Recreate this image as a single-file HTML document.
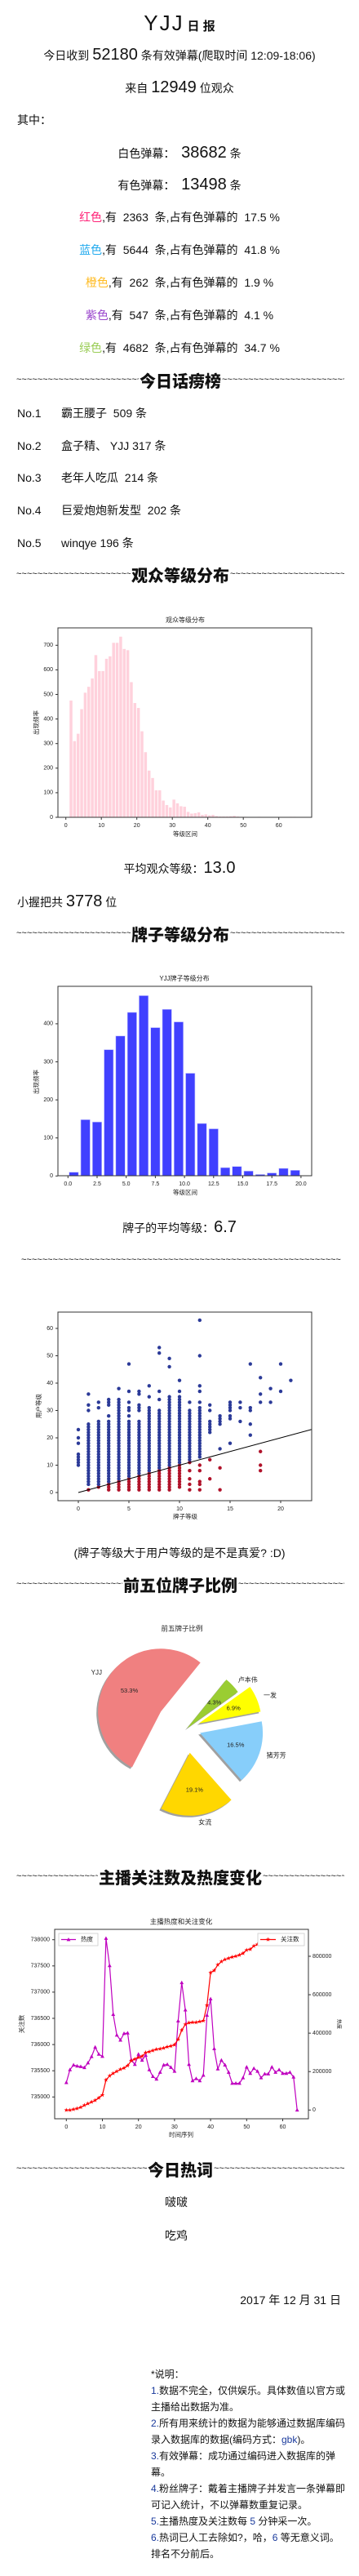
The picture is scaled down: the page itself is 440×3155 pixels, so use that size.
<!DOCTYPE html>
<html><head><meta charset="utf-8">
<style>
html,body{margin:0;padding:0;background:#fff;}
body{width:440px;height:3155px;position:relative;overflow:hidden;font-family:"Liberation Sans","Noto Sans CJK SC",sans-serif;color:#111;}
.c{position:absolute;left:0;width:440px;text-align:center;white-space:nowrap;font-size:14px;line-height:24px;}
.l{position:absolute;white-space:nowrap;font-size:14px;line-height:24px;}
.n{font-size:20px;font-family:"Liberation Sans",sans-serif;}
.hdr{position:absolute;left:20px;width:402px;height:26px;display:flex;align-items:center;white-space:nowrap;}
.hdr .t{flex:1;overflow:hidden;font-size:11px;letter-spacing:0;color:#111;line-height:26px;}
.hdr .m{font-size:20px;font-weight:900;font-family:"Noto Sans CJK SC",sans-serif;padding:0 1px;}
.note{position:absolute;left:185px;width:240px;font-size:12px;line-height:20px;}
.note b{font-weight:normal;color:#1a3a9c;}
svg text{font-family:"Liberation Sans","Noto Sans CJK SC",sans-serif;}
</style></head>
<body>
<div class="c" style="top:14px;line-height:28px"><span style="font-size:26px;letter-spacing:2px">YJJ</span> <span style="font-size:15px;font-weight:bold">日 报</span></div>
<div class="c" style="top:55px">今日收到 <span class="n">52180</span> 条有效弹幕(爬取时间 12:09-18:06)</div>
<div class="c" style="top:95px">来自 <span class="n">12949</span> 位观众</div>
<div class="l" style="left:21px;top:135px">其中：</div>
<div class="c" style="top:175px">白色弹幕：&nbsp; <span class="n">38682</span> 条</div>
<div class="c" style="top:214px">有色弹幕：&nbsp; <span class="n">13498</span> 条</div>
<div class="c" style="top:254px"><span style="color:#ff2277">红色</span>,有 &nbsp;2363 &nbsp;条,占有色弹幕的 &nbsp;17.5 %</div>
<div class="c" style="top:294px"><span style="color:#22aaee">蓝色</span>,有 &nbsp;5644 &nbsp;条,占有色弹幕的 &nbsp;41.8 %</div>
<div class="c" style="top:334px"><span style="color:#ffbb22">橙色</span>,有 &nbsp;262 &nbsp;条,占有色弹幕的 &nbsp;1.9 %</div>
<div class="c" style="top:374px"><span style="color:#9944cc">紫色</span>,有 &nbsp;547 &nbsp;条,占有色弹幕的 &nbsp;4.1 %</div>
<div class="c" style="top:414px"><span style="color:#99cc55">绿色</span>,有 &nbsp;4682 &nbsp;条,占有色弹幕的 &nbsp;34.7 %</div>

<div class="hdr" style="top:452px"><span class="t">~~~~~~~~~~~~~~~~~~~~~~~~~~~~~~~~~~~~~~~~</span><span class="m">今日话痨榜</span><span class="t">~~~~~~~~~~~~~~~~~~~~~~~~~~~~~~~~~~~~~~~~</span></div>
<div class="l" style="left:21px;top:494px">No.1<span style="position:absolute;left:54px">霸王腰子 &nbsp;509 条</span></div>
<div class="l" style="left:21px;top:534px">No.2<span style="position:absolute;left:54px">盒子精、 YJJ 317 条</span></div>
<div class="l" style="left:21px;top:573px">No.3<span style="position:absolute;left:54px">老年人吃瓜 &nbsp;214 条</span></div>
<div class="l" style="left:21px;top:613px">No.4<span style="position:absolute;left:54px">巨爱炮炮新发型 &nbsp;202 条</span></div>
<div class="l" style="left:21px;top:653px">No.5<span style="position:absolute;left:54px">winqye 196 条</span></div>

<div class="hdr" style="top:690px"><span class="t">~~~~~~~~~~~~~~~~~~~~~~~~~~~~~~~~~~~~~~~~</span><span class="m">观众等级分布</span><span class="t">~~~~~~~~~~~~~~~~~~~~~~~~~~~~~~~~~~~~~~~~</span></div>
<div class="c" style="top:1051px">平均观众等级：<span class="n">13.0</span></div>
<div class="l" style="left:21px;top:1092px">小握把共 <span class="n">3778</span> 位</div>
<div class="hdr" style="top:1130px"><span class="t">~~~~~~~~~~~~~~~~~~~~~~~~~~~~~~~~~~~~~~~~</span><span class="m">牌子等级分布</span><span class="t">~~~~~~~~~~~~~~~~~~~~~~~~~~~~~~~~~~~~~~~~</span></div>
<div class="c" style="top:1491px">牌子的平均等级：<span class="n">6.7</span></div>
<div class="hdr" style="top:1530px;left:26px;width:392px"><span class="t">~~~~~~~~~~~~~~~~~~~~~~~~~~~~~~~~~~~~~~~~~~~~~~~~~~~~~~~~~~~~~~~~~~~~~~~~~~~~~~~~~~~~~~~~~~~~~</span></div>
<div class="c" style="top:1890px">(牌子等级大于用户等级的是不是真爱? :D)</div>
<div class="hdr" style="top:1927px"><span class="t">~~~~~~~~~~~~~~~~~~~~~~~~~~~~~~~~~~~~~~~~</span><span class="m">前五位牌子比例</span><span class="t">~~~~~~~~~~~~~~~~~~~~~~~~~~~~~~~~~~~~~~~~</span></div>
<div class="hdr" style="top:2285px"><span class="t">~~~~~~~~~~~~~~~~~~~~~~~~~~~~~~~~~~~~~~~~</span><span class="m">主播关注数及热度变化</span><span class="t">~~~~~~~~~~~~~~~~~~~~~~~~~~~~~~~~~~~~~~~~</span></div>
<div class="hdr" style="top:2643px"><span class="t">~~~~~~~~~~~~~~~~~~~~~~~~~~~~~~~~~~~~~~~~</span><span class="m">今日热词</span><span class="t">~~~~~~~~~~~~~~~~~~~~~~~~~~~~~~~~~~~~~~~~</span></div>
<div class="l" style="left:202px;top:2685px">啵啵</div>
<div class="l" style="left:202px;top:2726px">吃鸡</div>
<div class="l" style="right:22px;top:2805px">2017 年 12 月 31 日</div>
<div class="note" style="top:2898px">*说明：<br><b>1.</b>数据不完全，仅供娱乐。具体数值以官方或主播给出数据为准。<br><b>2.</b>所有用来统计的数据为能够通过数据库编码录入数据库的数据(编码方式：<b>gbk</b>)。<br><b>3.</b>有效弹幕：成功通过编码进入数据库的弹幕。<br><b>4.</b>粉丝牌子：戴着主播牌子并发言一条弹幕即可记入统计，不以弹幕数重复记录。<br><b>5.</b>主播热度及关注数每 <b>5</b> 分钟采一次。<br><b>6.</b>热词已人工去除如?，哈，<b>6</b> 等无意义词。排名不分前后。</div>

<svg id="charts" width="440" height="3155" style="position:absolute;left:0;top:0"></svg>

<script>
// ---- chart 1: viewer level distribution
const viewerLevels = [];
const viewerCounts = [475,310,340,440,507,531,565,660,595,595,645,655,710,710,735,685,680,550,465,445,350,265,190,160,110,110,68,50,40,72,57,45,43,22,15,17,20,10,12,8,10,5,3,3,3,4,6,3,2,2,1,1,1,2,1,1,1,1,1,1,1,1,2,2];
for (let i = 0; i < viewerCounts.length; i++) viewerLevels.push(i + 1);
const viewerYTicks = [0,100,200,300,400,500,600,700];
const viewerXTicks = [0,10,20,30,40,50,60];
// ---- chart 2: badge level distribution
const badgeBins = [0.5,1.5,2.5,3.5,4.5,5.5,6.5,7.5,8.5,9.5,10.5,11.5,12.5,13.5,14.5,15.5,16.5,17.5,18.5,19.5];
const badgeCounts = [10,148,142,332,368,430,474,390,438,405,270,138,124,22,25,13,4,8,20,15];
const badgeYTicks = [0,100,200,300,400];
const badgeXTicks = ["0.0","2.5","5.0","7.5","10.0","12.5","15.0","17.5","20.0"];
// ---- chart 3: scatter badge level vs user level
const scatBadge = [0,1,2,3,4,5,6,7,8,9,10,11,12,13,14,15,16,17,18,19,20,21];
const scatRangeLo = [null,3,2,1,1,1,1,1,1,1,2,12,13,22,25,null,null,null,null,null,null,null];
const scatRangeHi = [null,25,26,26,34,26,26,31,30,35,35,30,31,26,28,null,null,null,null,null,null,null];
const scatExtra = [[10,11,12,13,14,18,20,23],[1,30,32,36],[31,33],[28,32,33,34],[38],[28,30,31,33,37,47],[30,31,32,36,37],[35,39],[34,37,51,53],[46,49],[37,41],[1,3,5,8,11,33],[1,3,4,8,10,33,37,39,50,63],[5,12,30,32],[1,9,16],[18,27,28,30,31,32,33],[26,31,33],[21,25,30,31,47],[8,10,15,33,36,42],[33,38],[37,47],[41]];
const scatYTicks = [0,10,20,30,40,50,60];
const scatXTicks = [0,5,10,15,20];
// ---- chart 4: pie
const pieLabels = ["YJJ","女流","猪芳芳","一发","卢本伟"];
const pieValues = [53.3,19.1,16.5,6.9,4.3];
// ---- chart 5: heat & followers
const heatValues = [735275,735520,735610,735590,735580,735560,735650,735770,735950,735815,735775,738025,737505,736575,736180,736085,736210,736220,735710,735620,735815,735700,735795,735520,735390,735340,735470,735610,735620,735565,735490,736450,737180,736660,735620,735310,735350,735310,735415,736560,736870,735920,735535,735700,735610,735470,735260,735260,735260,735365,735570,735450,735545,735490,735365,735440,735440,735570,735470,735520,735450,735450,735470,735380,734750];
const followValues = [0,0,3000,8500,14000,24000,33000,41000,50000,64000,79000,156000,178000,191000,201000,211000,219000,231000,256000,266000,273000,280000,299000,304000,310000,316000,319000,323000,329000,333000,340000,368000,415000,446000,453000,456000,457000,460000,464000,545000,715000,726000,755000,772000,783000,790000,797000,800000,807000,816000,833000,837000,854000,861000,868000,875000,878000,881000,882000,885000,889000];
const heatYTicks = [735000,735500,736000,736500,737000,737500,738000];
const followYTicks = [0,200000,400000,600000,800000];
const timeXTicks = [0,10,20,30,40,50,60];

const NS = "http://www.w3.org/2000/svg";
const svg = document.getElementById("charts");
function mk(tag, attrs, parent) {
  const e = document.createElementNS(NS, tag);
  for (const k in attrs) e.setAttribute(k, attrs[k]);
  (parent || svg).appendChild(e);
  return e;
}
function txt(x, y, s, size, anchor, extra) {
  const t = mk("text", Object.assign({x: x, y: y, "font-size": size, "text-anchor": anchor || "middle", "dominant-baseline": "middle", fill: "#222"}, extra || {}));
  t.textContent = s;
  return t;
}
function frame(x0, y0, x1, y1) {
  return mk("rect", {x: x0, y: y0, width: x1 - x0, height: y1 - y0, fill: "none", stroke: "#333", "stroke-width": 1});
}

// ===== Chart 1
(function () {
  const X = v => 80.7 + v * 4.35, Y = v => 1001 - v * 0.301;
  const g = mk("g", {});
  
  
  let t = txt(227, 760, "观众等级分布", 8);
  
  
  viewerCounts.forEach((v, i) => {
    const r = mk("rect", {x: X(viewerLevels[i] + 0.05), y: Y(v), width: 4.35 * 0.8, height: Y(0) - Y(v), fill: "#ffd1dc"}, g);
    
    
  });
  const f = frame(71, 769, 382, 1001);
  
  
  viewerYTicks.forEach(v => {
    mk("line", {x1: 68, x2: 71, y1: Y(v), y2: Y(v), stroke: "#333"});
    const l = txt(65, Y(v), String(v), 7, "end");
    
    
  });
  viewerXTicks.forEach(v => {
    mk("line", {x1: X(v), x2: X(v), y1: 1001, y2: 1004, stroke: "#333"});
    const l = txt(X(v), 1011, String(v), 7);
    
    
  });
  t = txt(227, 1022, "等级区间", 7.5);
  
  
  t = txt(45, 885, "出现频率", 7.5, "middle", {transform: "rotate(-90 45 885)"});
  
  
})();

// ===== Chart 2
(function () {
  const X = v => 83.3 + v * 14.28, Y = v => 1440.3 - v * 0.466;
  let t = txt(226, 1199, "YJJ牌子等级分布", 8);
  
  
  badgeCounts.forEach((v, i) => {
    const r = mk("rect", {x: X(badgeBins[i] - 0.4), y: Y(v), width: 14.28 * 0.8, height: Y(0) - Y(v), fill: "#4040ff", stroke: "#c8c8ff", "stroke-width": 0.6});
    
    
  });
  const f = frame(71, 1208, 382, 1440);
  
  
  badgeYTicks.forEach(v => {
    mk("line", {x1: 68, x2: 71, y1: Y(v), y2: Y(v), stroke: "#333"});
    const l = txt(65, Y(v), String(v), 7, "end");
    
    
  });
  badgeXTicks.forEach(s => {
    const v = parseFloat(s);
    mk("line", {x1: X(v), x2: X(v), y1: 1440, y2: 1443, stroke: "#333"});
    const l = txt(X(v), 1450, s, 7);
    
    
  });
  t = txt(227, 1461, "等级区间", 7.5);
  
  
  t = txt(45, 1325, "出现频率", 7.5, "middle", {transform: "rotate(-90 45 1325)"});
  
  
})();

// ===== Chart 3 scatter
(function () {
  const X = v => 96 + v * 12.4, Y = v => 1828 - v * 3.35;
  scatBadge.forEach((b, i) => {
    const ys = scatExtra[i].slice();
    if (scatRangeLo[i] !== null) for (let u = scatRangeLo[i]; u <= scatRangeHi[i]; u++) ys.push(u);
    ys.forEach(u => {
      const c = mk("circle", {cx: X(b), cy: Y(u), r: 2.2, fill: u > b ? "#2b3a98" : "#b0122a"});
      
      
    });
  });
  const ln = mk("line", {x1: X(0), y1: Y(0), x2: 382, y2: Y((382 - 96) / 12.4), stroke: "#000", "stroke-width": 1});
  
  
  const f = frame(71, 1607, 382, 1838);
  
  
  scatYTicks.forEach(v => {
    mk("line", {x1: 68, x2: 71, y1: Y(v), y2: Y(v), stroke: "#333"});
    const l = txt(65, Y(v), String(v), 7, "end");
    
    
  });
  scatXTicks.forEach(v => {
    mk("line", {x1: X(v), x2: X(v), y1: 1838, y2: 1841, stroke: "#333"});
    const l = txt(X(v), 1848, String(v), 7);
    
    
  });
  let t = txt(227, 1858, "牌子等级", 7.5);
  
  
  t = txt(48, 1722, "用户等级", 7.5, "middle", {transform: "rotate(-90 48 1722)"});
  
  
})();

// ===== Chart 4 pie
(function () {
  const cx = 229, cy = 2117, R = 77, start = 51;
  const colors = ["#f08080", "#ffd700", "#87cefa", "#ffff00", "#9acd32"];
  const explode = [38, 30, 17, 16, 0];
  let t = txt(223, 1995, "前五牌子比例", 8.5);
  
  
  const total = pieValues.reduce((a, b) => a + b, 0);
  let a0 = start;
  const rad = d => d * Math.PI / 180;
  const wedges = [];
  pieValues.forEach((v, i) => {
    const a1 = a0 + v / total * 360, mid = (a0 + a1) / 2;
    const ox = cx + explode[i] * Math.cos(rad(mid)), oy = cy - explode[i] * Math.sin(rad(mid));
    const p = (dx, dy) => {
      const large = (a1 - a0) > 180 ? 1 : 0;
      return `M${ox + dx},${oy + dy} L${ox + dx + R * Math.cos(rad(a0))},${oy + dy - R * Math.sin(rad(a0))} A${R},${R} 0 ${large} 0 ${ox + dx + R * Math.cos(rad(a1))},${oy + dy - R * Math.sin(rad(a1))} Z`;
    };
    const sh = mk("path", {d: p(-2, 2), fill: "#888", opacity: 0.8});
    
    
    wedges.push({p: p(0, 0), c: colors[i], mid: mid, ox: ox, oy: oy, i: i});
    a0 = a1;
  });
  wedges.forEach(w => {
    const e = mk("path", {d: w.p, fill: w.c});
    
    
    const c = Math.cos(rad(w.mid)), s = Math.sin(rad(w.mid));
    const lt = txt(w.ox + R * 1.12 * c, w.oy - R * 1.12 * s, pieLabels[w.i], 8, c < -0.05 ? "end" : (c > 0.05 ? "start" : "middle"));
    
    
    const pt = txt(w.ox + R * 0.6 * c, w.oy - R * 0.6 * s, pieValues[w.i].toFixed(1) + "%", 7.5);
    
    
  });
})();

// ===== Chart 5 lines
(function () {
  const X = v => 81.3 + v * 4.42;
  const YL = v => 2568.3 - (v - 735000) * 0.0642;
  const YR = v => 2584.3 - v * 0.0002354;
  let t = txt(222, 2354, "主播热度和关注变化", 8.5);
  
  
  const hp = heatValues.map((v, i) => X(i) + "," + YL(v)).join(" ");
  const hl = mk("polyline", {points: hp, fill: "none", stroke: "#bf00bf", "stroke-width": 1.2});
  
  
  heatValues.forEach((v, i) => {
    const x = X(i), y = YL(v);
    const m = mk("polygon", {points: `${x},${y - 2.6} ${x - 2.4},${y + 1.8} ${x + 2.4},${y + 1.8}`, fill: "#bf00bf"});
    
    
  });
  const fp = followValues.map((v, i) => X(i) + "," + YR(v)).join(" ");
  const fl = mk("polyline", {points: fp, fill: "none", stroke: "#ff0000", "stroke-width": 1.2});
  
  
  followValues.forEach((v, i) => {
    const m = txt(X(i), YR(v) + 0.5, "★", 6, "middle", {fill: "#ff0000"});
    
    
  });
  const f = frame(67, 2363, 378, 2595);
  
  
  heatYTicks.forEach(v => {
    mk("line", {x1: 64, x2: 67, y1: YL(v), y2: YL(v), stroke: "#333"});
    const l = txt(61, YL(v), String(v), 7, "end");
    
    
  });
  followYTicks.forEach(v => {
    mk("line", {x1: 378, x2: 381, y1: YR(v), y2: YR(v), stroke: "#333"});
    const l = txt(383, YR(v), String(v), 7, "start");
    
    
  });
  timeXTicks.forEach(v => {
    mk("line", {x1: X(v), x2: X(v), y1: 2595, y2: 2598, stroke: "#333"});
    const l = txt(X(v), 2605, String(v), 7);
    
    
  });
  t = txt(222, 2615, "时间序列", 7.5);
  
  
  t = txt(27, 2479, "关注数", 7.5, "middle", {transform: "rotate(-90 27 2479)"});
  
  
  t = txt(415, 2479, "热度", 6, "middle", {transform: "rotate(90 415 2479)"});
  
  
  const lg1 = mk("rect", {x: 72, y: 2368, width: 48, height: 15, fill: "#fff", stroke: "#ccc", "stroke-width": 0.8});
  
  
  mk("line", {x1: 75, x2: 93, y1: 2375.5, y2: 2375.5, stroke: "#bf00bf", "stroke-width": 1.2});
  mk("polygon", {points: "84,2373 81.6,2377.4 86.4,2377.4", fill: "#bf00bf"});
  t = txt(99, 2375.5, "热度", 7.5, "start");
  
  
  const lg2 = mk("rect", {x: 316, y: 2368, width: 57, height: 15, fill: "#fff", stroke: "#ccc", "stroke-width": 0.8});
  
  
  mk("line", {x1: 319, x2: 338, y1: 2375.5, y2: 2375.5, stroke: "#ff0000", "stroke-width": 1.2});
  txt(328.5, 2376, "★", 6, "middle", {fill: "#ff0000"});
  t = txt(344, 2375.5, "关注数", 7.5, "start");
  
  
})();
</script>
</body></html>
